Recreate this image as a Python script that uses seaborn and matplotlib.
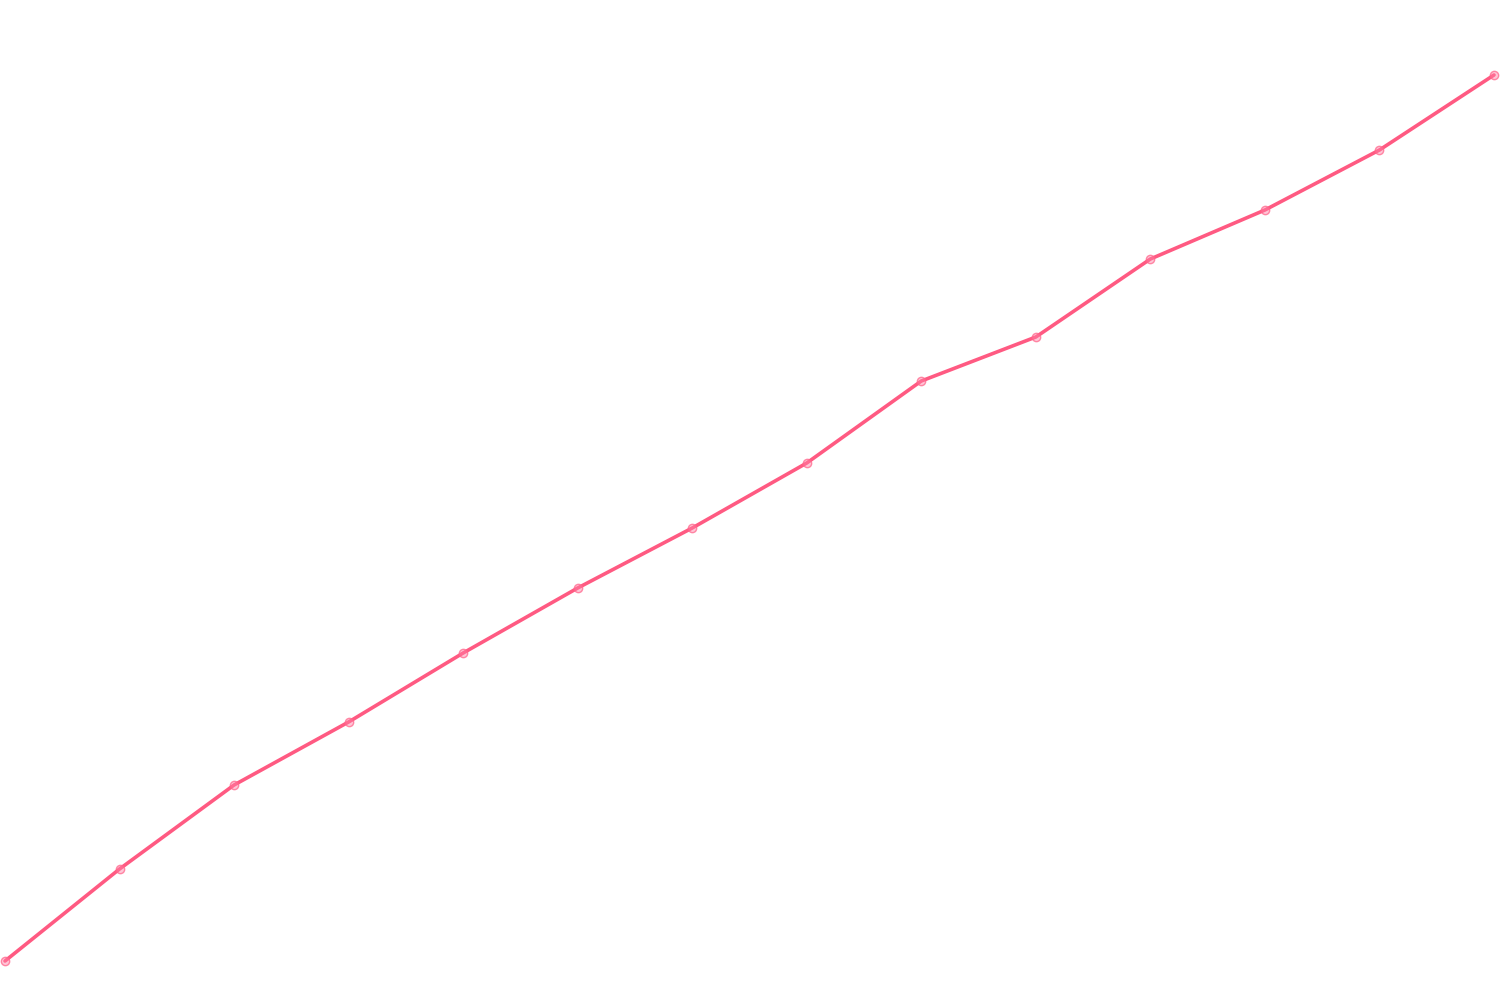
import matplotlib
matplotlib.use("Agg")
import matplotlib.pyplot as plt
import seaborn as sns
import pandas as pd

steps = list(range(14))
values = [39, 131, 215, 278, 347, 412, 472, 537, 619, 663, 741, 790, 850, 925]

df = pd.DataFrame({"step": steps, "value": values})

sns.set_theme(style="white")
fig = plt.figure(figsize=(15, 10), dpi=100)
ax = fig.add_axes([0, 0, 1, 1])
color = "#ff5a82"
sns.lineplot(data=df, x="step", y="value", ax=ax, color=color, linewidth=2.6,
             marker="o", markersize=6, markerfacecolor=(1, 0.5, 0.65, 0.45),
             markeredgecolor=(1, 0.4, 0.55, 0.75), markeredgewidth=1.0)
ax.set_xlim(-5 / 114.54, 13 + 6 / 114.54)
ax.set_ylim(0, 1000)
ax.axis("off")
fig.savefig("out.png", dpi=100, facecolor="white")
